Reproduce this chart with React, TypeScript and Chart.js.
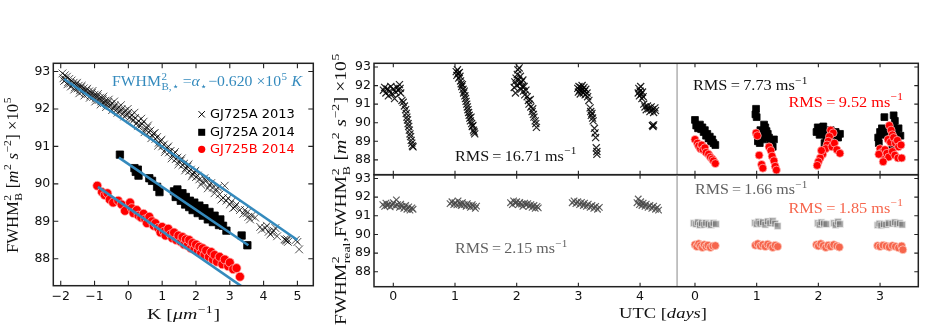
import React, { useEffect, useRef } from 'react';
import { Chart, registerables } from 'chart.js';

Chart.register(...registerables);

type P = [number, number];

// ---------------- Left panel: FWHM vs K ----------------
const kTicks = [-2, -1, 0, 1, 2, 3, 4, 5];
const fwhmTicks = [88, 89, 90, 91, 92, 93];

const gj725a2013: P[] = [
  [-1.95, 92.95], [-1.92, 92.82], [-1.88, 92.9], [-1.85, 92.78], [-1.82, 92.86], [-1.78, 92.72], [-1.75, 92.8],
  [-1.72, 92.68], [-1.68, 92.76], [-1.65, 92.64], [-1.62, 92.7], [-1.58, 92.58], [-1.55, 92.66], [-1.5, 92.55],
  [-1.47, 92.62], [-1.43, 92.5], [-1.4, 92.58], [-1.36, 92.47], [-1.32, 92.55], [-1.28, 92.44], [-1.25, 92.5],
  [-1.2, 92.4], [-1.16, 92.47], [-1.12, 92.36], [-1.08, 92.43], [-1.04, 92.32], [-1.0, 92.38], [-0.96, 92.28],
  [-0.92, 92.34], [-0.88, 92.24], [-0.84, 92.3], [-0.8, 92.2], [-0.76, 92.27], [-0.72, 92.16], [-0.68, 92.22],
  [-0.64, 92.12], [-0.6, 92.18], [-0.55, 92.08], [-0.5, 92.14], [-0.45, 92.03], [-0.4, 92.09], [-0.35, 91.98],
  [-0.3, 92.04], [-0.25, 91.93], [-0.2, 91.99], [-0.15, 91.88], [-0.1, 91.95], [-0.05, 91.84], [0.0, 91.9],
  [0.05, 91.78], [0.1, 91.84], [0.15, 91.7], [0.2, 91.76], [0.25, 91.62], [0.3, 91.68], [0.35, 91.55],
  [0.4, 91.6], [0.45, 91.66], [0.5, 91.45], [0.55, 91.5], [0.6, 91.38], [0.65, 91.42], [0.7, 91.3],
  [0.75, 91.34], [0.8, 91.2], [0.85, 91.25], [0.9, 91.1], [0.95, 91.14], [1.0, 91.0], [1.05, 91.05],
  [1.1, 90.92], [1.15, 90.96], [1.2, 90.84], [1.25, 90.88], [1.3, 90.76], [1.35, 90.8], [1.4, 90.66],
  [1.45, 90.7], [1.5, 90.6], [1.55, 90.62], [1.6, 90.5], [1.65, 90.54], [1.7, 90.42], [1.75, 90.46],
  [1.8, 90.34], [1.85, 90.38], [1.9, 90.26], [1.95, 90.3], [2.0, 90.18], [2.05, 90.22], [2.1, 90.12],
  [2.2, 90.05], [2.3, 90.08], [2.4, 89.96], [2.5, 89.9], [2.6, 89.85], [2.7, 89.72], [2.85, 89.95],
  [2.8, 89.62], [2.9, 89.55], [3.0, 89.45], [3.05, 89.52], [3.15, 89.38], [3.3, 89.3], [3.4, 89.2],
  [3.5, 89.22], [3.55, 89.12], [3.65, 89.15], [3.9, 88.85], [3.95, 88.78], [4.05, 88.82], [4.15, 88.72],
  [4.2, 88.65], [4.3, 88.75], [4.4, 88.6], [4.65, 88.5], [4.68, 88.48], [4.7, 88.52], [5.0, 88.45], [5.05, 88.25],
  [-1.9, 92.75], [-1.8, 92.66], [-1.7, 92.6], [-1.6, 92.52], [-1.52, 92.7], [-1.45, 92.42], [-1.38, 92.62],
  [-1.3, 92.36], [-1.22, 92.54], [-1.14, 92.3], [-1.06, 92.48], [-0.98, 92.2], [-0.9, 92.4], [-0.82, 92.12],
  [-0.74, 92.33], [-0.66, 92.05], [-0.58, 92.25], [-0.48, 91.97], [-0.42, 92.2], [-0.32, 91.9], [-0.22, 92.1],
  [-0.12, 91.8], [-0.02, 92.0], [0.08, 91.72], [0.18, 91.9], [0.28, 91.55], [0.38, 91.74], [0.48, 91.38],
  [0.58, 91.56], [0.68, 91.22], [0.78, 91.36], [0.88, 91.02], [0.98, 91.18], [1.08, 90.85], [1.18, 91.0],
  [1.28, 90.68], [1.38, 90.85], [1.48, 90.52], [1.58, 90.68], [1.68, 90.36], [1.78, 90.52], [1.88, 90.2],
  [1.98, 90.35], [2.15, 89.98], [2.25, 90.15], [2.35, 89.88], [2.45, 90.02], [2.55, 89.75], [2.65, 89.9],
  [2.75, 89.58], [2.95, 89.62], [3.1, 89.35], [3.2, 89.45], [3.45, 89.3], [3.6, 89.05], [3.75, 89.1],
  [4.1, 88.88], [4.25, 88.7], [4.35, 88.82], [4.62, 88.52], [4.72, 88.45], [4.95, 88.5],
];

const gj725a2014: P[] = [
  [-0.25, 90.78], [0.18, 90.42], [0.22, 90.32], [0.28, 90.38], [0.3, 90.22], [0.62, 90.15], [0.7, 90.08],
  [0.85, 89.92], [0.92, 89.78], [1.35, 89.8], [1.4, 89.65], [1.45, 89.85], [1.5, 89.7], [1.55, 89.55],
  [1.6, 89.75], [1.62, 89.6], [1.68, 89.45], [1.7, 89.65], [1.75, 89.5], [1.8, 89.38], [1.82, 89.55],
  [1.88, 89.42], [1.9, 89.3], [1.95, 89.5], [2.0, 89.35], [2.05, 89.22], [2.1, 89.42], [2.15, 89.28],
  [2.2, 89.15], [2.25, 89.35], [2.3, 89.2], [2.35, 89.05], [2.4, 89.25], [2.45, 89.1], [2.5, 88.98],
  [2.55, 89.15], [2.6, 89.0], [2.68, 88.9], [2.72, 89.05], [2.8, 88.88], [2.9, 88.75], [3.35, 88.62], [3.52, 88.36],
];

const gj725b2014: P[] = [
  [-0.92, 89.95], [-0.78, 89.78], [-0.7, 89.7], [-0.62, 89.75], [-0.55, 89.58], [-0.45, 89.5], [-0.3, 89.55],
  [-0.2, 89.45], [-0.1, 89.28], [0.05, 89.5], [0.1, 89.35], [0.15, 89.22], [0.25, 89.3], [0.3, 89.15],
  [0.38, 89.1], [0.45, 89.2], [0.5, 89.05], [0.55, 88.95], [0.62, 89.12], [0.7, 89.0], [0.75, 88.88],
  [0.8, 88.95], [0.88, 88.82], [0.95, 88.7], [1.0, 88.85], [1.05, 88.72], [1.1, 88.62], [1.18, 88.8],
  [1.25, 88.65], [1.3, 88.55], [1.35, 88.7], [1.42, 88.5], [1.48, 88.62], [1.55, 88.45], [1.6, 88.58],
  [1.65, 88.38], [1.7, 88.52], [1.75, 88.35], [1.8, 88.5], [1.85, 88.28], [1.9, 88.42], [1.95, 88.25],
  [2.0, 88.38], [2.05, 88.2], [2.1, 88.32], [2.15, 88.15], [2.2, 88.28], [2.25, 88.1], [2.3, 88.22],
  [2.38, 88.05], [2.45, 88.18], [2.5, 87.98], [2.55, 88.1], [2.62, 87.92], [2.7, 88.05], [2.78, 87.85],
  [2.85, 87.98], [2.95, 87.8], [3.0, 87.9], [3.1, 87.72], [3.2, 87.75], [3.3, 87.52],
];

const fitA2013: P[] = [[-1.9, 92.8], [5.0, 88.5]];
const fitA2014: P[] = [[-0.28, 90.7], [3.55, 88.36]];
const fitB2014: P[] = [[-0.9, 89.92], [3.45, 87.2]];

const legendLabels = ['GJ725A 2013', 'GJ725A 2014', 'GJ725B 2014'];

// ---------------- Middle panels: FWHM vs UTC ----------------
const utcTicks2013 = [0, 1, 2, 3, 4];
const utcTicks2014 = [0, 1, 2, 3];
const SEASON_SPLIT = 4.6; // gray divider (in 2013 day units)
const SHIFT_2014 = 4.89; // where day 0 of 2014 sits on the shared axis

const raw2013: P[] = [
  [-0.16, 91.75], [-0.14, 91.9], [-0.12, 91.6], [-0.1, 91.82], [-0.08, 91.45], [-0.06, 91.7], [-0.04, 91.95],
  [-0.02, 91.55], [0.0, 91.8], [0.02, 91.3], [0.04, 91.65], [0.06, 91.9], [0.08, 91.75], [0.1, 92.05],
  [0.11, 91.85], [0.12, 91.6], [0.14, 91.2], [0.16, 91.1], [0.18, 90.9], [0.2, 90.7], [0.21, 90.5],
  [0.22, 90.3], [0.23, 90.15], [0.24, 89.95], [0.25, 89.8], [0.26, 89.6], [0.27, 89.4], [0.28, 89.25],
  [0.29, 89.05], [0.3, 88.9], [0.31, 88.75], [0.32, 88.7],
  [1.02, 92.75], [1.03, 92.55], [1.04, 92.85], [1.05, 92.65], [1.06, 92.4], [1.07, 92.7], [1.08, 92.5],
  [1.09, 92.25], [1.1, 92.1], [1.11, 91.95], [1.12, 92.05], [1.13, 91.8], [1.14, 91.6], [1.15, 91.7],
  [1.16, 91.45], [1.17, 91.3], [1.18, 91.15], [1.19, 91.0], [1.2, 90.85], [1.21, 90.7], [1.22, 90.55],
  [1.23, 90.4], [1.24, 90.25], [1.25, 90.1], [1.26, 90.3], [1.27, 89.95], [1.28, 89.8], [1.29, 89.85],
  [1.3, 89.6], [1.31, 89.5], [1.32, 89.4],
  [1.96, 91.9], [1.97, 92.2], [1.98, 91.6], [1.99, 92.4], [2.0, 92.0], [2.01, 92.6], [2.02, 92.85],
  [2.03, 92.3], [2.04, 92.95], [2.05, 92.1], [2.06, 92.5], [2.07, 91.8], [2.08, 92.2], [2.09, 91.95],
  [2.1, 92.3], [2.11, 91.7], [2.12, 91.95], [2.13, 91.5], [2.15, 91.75], [2.17, 91.4], [2.19, 91.2],
  [2.2, 91.0], [2.22, 91.25], [2.23, 90.85], [2.25, 90.6], [2.26, 90.75], [2.27, 90.45], [2.28, 90.3],
  [2.3, 90.1], [2.31, 89.95], [2.32, 89.75],
  [2.99, 91.85], [3.0, 91.65], [3.01, 91.95], [3.02, 91.75], [3.03, 91.55], [3.04, 91.9], [3.05, 91.7],
  [3.06, 92.0], [3.07, 91.8], [3.08, 91.6], [3.09, 91.9], [3.1, 91.7], [3.11, 91.5], [3.12, 91.8],
  [3.14, 91.6], [3.15, 91.4], [3.17, 91.2], [3.19, 90.8], [3.2, 90.6], [3.21, 90.4], [3.22, 90.5],
  [3.23, 90.25], [3.24, 90.1], [3.26, 89.7], [3.27, 89.45], [3.28, 89.2], [3.29, 88.65], [3.3, 88.45], [3.3, 88.3],
  [3.97, 91.6], [3.98, 91.85], [3.99, 91.45], [4.0, 91.7], [4.01, 91.95], [4.02, 91.55], [4.03, 91.3],
  [4.04, 91.65], [4.05, 91.4], [4.06, 91.0], [4.08, 90.85], [4.1, 90.7], [4.12, 90.9], [4.14, 90.75],
  [4.16, 90.6], [4.18, 90.85], [4.2, 90.7], [4.22, 90.55], [4.24, 90.8], [4.25, 90.65], [4.2, 89.85],
  [4.21, 89.8], [4.22, 89.88],
];

const raw2014A: P[] = [
  [0.0, 90.15], [0.02, 89.85], [0.05, 89.7], [0.08, 89.9], [0.1, 89.65], [0.12, 89.75], [0.14, 89.5],
  [0.16, 89.6], [0.18, 89.3], [0.2, 89.4], [0.22, 89.15], [0.24, 89.25], [0.26, 89.0], [0.28, 89.1],
  [0.3, 88.9], [0.33, 88.8],
  [0.99, 90.75], [0.98, 90.45], [1.0, 90.3], [1.06, 89.6], [1.08, 89.35], [1.1, 89.1], [1.12, 89.9],
  [1.14, 89.75], [1.16, 89.55], [1.18, 89.4], [1.2, 89.2], [1.22, 89.0], [1.24, 88.85], [1.26, 88.7],
  [1.28, 89.1], [1.05, 88.9], [1.02, 89.0],
  [1.97, 89.5], [1.99, 89.75], [2.02, 89.35], [2.05, 89.65], [2.08, 89.8], [2.1, 89.5], [2.13, 89.2],
  [2.16, 89.4], [2.2, 89.6], [2.24, 89.3], [2.28, 89.5], [2.32, 89.2], [2.35, 89.4], [2.1, 88.9], [2.18, 89.0],
  [3.07, 90.3], [3.22, 90.4], [3.24, 90.1], [3.0, 89.5], [2.97, 89.2], [2.98, 88.9], [3.03, 89.7],
  [3.06, 89.35], [3.1, 89.6], [3.14, 89.2], [3.18, 89.5], [3.22, 89.8], [3.26, 89.55], [3.3, 89.7],
  [3.33, 89.3], [3.28, 89.0], [3.2, 88.8],
];

const raw2014B: P[] = [
  [0.0, 89.1], [0.04, 88.9], [0.06, 88.75], [0.09, 88.6], [0.11, 88.8], [0.13, 88.55], [0.16, 88.65],
  [0.18, 88.4], [0.22, 88.3], [0.25, 88.15], [0.28, 88.05], [0.3, 87.95], [0.33, 87.8],
  [0.99, 89.45], [1.01, 89.3], [1.04, 88.25], [1.08, 87.75], [1.1, 87.55], [1.2, 88.7], [1.23, 88.5],
  [1.25, 88.2], [1.28, 87.95], [1.3, 87.65], [1.32, 87.45],
  [2.2, 89.6], [2.24, 89.45], [2.18, 89.25], [2.16, 89.0], [2.14, 88.8], [2.12, 88.6], [2.22, 88.7],
  [2.26, 88.9], [2.3, 88.55], [2.35, 88.35], [2.07, 88.3], [2.03, 88.1], [2.0, 87.9], [1.98, 87.7], [2.05, 88.5],
  [3.15, 89.85], [3.18, 89.6], [3.2, 89.35], [3.13, 89.1], [3.17, 88.95], [3.22, 89.2], [3.25, 88.9],
  [3.28, 89.05], [3.3, 88.7], [3.34, 88.8], [3.0, 88.6], [3.03, 88.4], [3.06, 88.2], [3.08, 88.55],
  [3.11, 88.35], [3.14, 88.15], [3.2, 88.45], [3.24, 88.25], [3.29, 88.1], [3.35, 88.1], [3.05, 87.9], [2.98, 88.3],
];

const corr2013: P[] = [
  [-0.17, 91.6], [-0.14, 91.5], [-0.12, 91.68], [-0.1, 91.55], [-0.07, 91.62], [-0.05, 91.48], [-0.02, 91.58],
  [0.0, 91.7], [0.03, 91.52], [0.05, 91.85], [0.07, 91.6], [0.1, 91.45], [0.12, 91.62], [0.14, 91.5],
  [0.17, 91.4], [0.2, 91.55], [0.22, 91.35], [0.25, 91.48], [0.27, 91.3], [0.3, 91.42], [0.32, 91.35],
  [0.92, 91.65], [0.95, 91.75], [0.98, 91.6], [1.0, 91.7], [1.03, 91.58], [1.05, 91.8], [1.08, 91.65],
  [1.1, 91.55], [1.12, 91.7], [1.15, 91.6], [1.18, 91.5], [1.2, 91.65], [1.23, 91.55], [1.25, 91.45],
  [1.28, 91.6], [1.3, 91.5], [1.33, 91.4], [1.35, 91.52],
  [1.9, 91.7], [1.93, 91.6], [1.95, 91.8], [1.98, 91.68], [2.0, 91.75], [2.03, 91.6], [2.05, 91.72],
  [2.08, 91.62], [2.1, 91.5], [2.13, 91.68], [2.15, 91.58], [2.18, 91.65], [2.2, 91.5], [2.23, 91.6],
  [2.25, 91.45], [2.28, 91.55], [2.3, 91.4], [2.33, 91.5], [2.35, 91.42],
  [2.9, 91.7], [2.93, 91.8], [2.96, 91.65], [2.99, 91.75], [3.02, 91.6], [3.05, 91.72], [3.08, 91.55],
  [3.1, 91.68], [3.13, 91.5], [3.16, 91.62], [3.19, 91.45], [3.22, 91.55], [3.25, 91.4], [3.28, 91.5],
  [3.31, 91.35], [3.34, 91.45],
  [3.95, 91.7], [3.97, 91.9], [3.99, 91.6], [4.01, 91.75], [4.03, 91.55], [4.05, 91.68], [4.08, 91.5],
  [4.1, 91.62], [4.13, 91.45], [4.16, 91.55], [4.19, 91.4], [4.22, 91.52], [4.25, 91.35], [4.28, 91.45], [4.3, 91.3],
];

const corr2014A: P[] = [
  [-0.02, 90.6], [0.02, 90.55], [0.05, 90.65], [0.08, 90.5], [0.11, 90.6], [0.15, 90.52], [0.18, 90.62],
  [0.22, 90.55], [0.26, 90.5], [0.3, 90.62], [0.34, 90.55],
  [0.97, 90.62], [1.0, 90.55], [1.03, 90.68], [1.06, 90.58], [1.1, 90.65], [1.14, 90.52], [1.18, 90.7],
  [1.22, 90.6], [1.26, 90.72], [1.3, 90.58], [1.34, 90.45],
  [1.99, 90.6], [2.02, 90.52], [2.05, 90.65], [2.09, 90.58], [2.13, 90.55], [2.25, 90.6], [2.28, 90.5],
  [2.32, 90.68], [2.35, 90.55],
  [2.96, 90.5], [2.99, 90.58], [3.02, 90.48], [3.06, 90.55], [3.1, 90.52], [3.14, 90.6], [3.2, 90.58],
  [3.24, 90.65], [3.28, 90.55], [3.32, 90.6], [3.36, 90.52],
];

const corr2014B: P[] = [
  [0.0, 89.45], [0.03, 89.35], [0.06, 89.5], [0.09, 89.4], [0.12, 89.3], [0.15, 89.45], [0.18, 89.35],
  [0.21, 89.42], [0.25, 89.3], [0.29, 89.38], [0.33, 89.4],
  [0.98, 89.42], [1.02, 89.5], [1.06, 89.38], [1.1, 89.45], [1.14, 89.35], [1.18, 89.48], [1.22, 89.4],
  [1.26, 89.3], [1.3, 89.42], [1.34, 89.35],
  [1.97, 89.45], [2.0, 89.38], [2.04, 89.5], [2.08, 89.4], [2.12, 89.3], [2.16, 89.42], [2.2, 89.35],
  [2.25, 89.45], [2.3, 89.38], [2.34, 89.32],
  [2.96, 89.4], [3.0, 89.35], [3.05, 89.42], [3.1, 89.38], [3.15, 89.32], [3.2, 89.4], [3.25, 89.35],
  [3.3, 89.28], [3.35, 89.38], [3.37, 89.18],
];

const rmsRaw2013 = '16.71';
const rmsRaw2014A = '7.73';
const rmsRaw2014B = '9.52';
const rmsCorr2013 = '2.15';
const rmsCorr2014A = '1.66';
const rmsCorr2014B = '1.85';

// ---------------- styling / layout ----------------
const W = 927;
const H = 333;
const Y_W = 40;
const X_H = 30;
const SERIF = "'Liberation Serif', 'DejaVu Serif', serif";
const SANS = "'DejaVu Sans', sans-serif";
const BLUE = '#348ABD';
const RED = '#ff0000';
const SALMON = '#f6654c';
const GRAY_TXT = '#606060';

const leftArea = { l: 53.3, r: 313.3, t: 63.3, b: 285.7 };
const midTop = { l: 374, r: 918.3, t: 63.3, b: 174.7 };
const midBot = { l: 374, r: 918.3, t: 174.7, b: 286.7 };

type Seg = { t?: string; it?: boolean; sup?: string; sub?: string };
type RichOpts = { x: number; y: number; size: number; color: string; align?: 'left' | 'center'; rotate?: boolean; width?: number };

function fontStr(size: number, it?: boolean) {
  return `${it ? 'italic ' : ''}${size}px ${SERIF}`;
}

function drawRich(ctx: CanvasRenderingContext2D, segs: Seg[], o: RichOpts) {
  const small = o.size * 0.7;
  let w = 0;
  const items = segs.map((s) => {
    ctx.font = fontStr(o.size, s.it);
    const mw = s.t ? ctx.measureText(s.t).width : 0;
    ctx.font = fontStr(small);
    const sw = Math.max(s.sup ? ctx.measureText(s.sup).width : 0, s.sub ? ctx.measureText(s.sub).width : 0);
    const item = { s, mw, x: w };
    w += mw + (sw ? sw + 1 : 0);
    return item;
  });
  const sx = o.width ? o.width / w : 1;
  ctx.save();
  ctx.translate(o.x, o.y);
  if (o.rotate) ctx.rotate(-Math.PI / 2);
  ctx.scale(sx, 1);
  const x0 = o.align === 'center' ? -w / 2 : 0;
  ctx.fillStyle = o.color;
  ctx.textBaseline = 'alphabetic';
  ctx.textAlign = 'left';
  for (const it of items) {
    ctx.font = fontStr(o.size, it.s.it);
    if (it.s.t) ctx.fillText(it.s.t, x0 + it.x, 0);
    ctx.font = fontStr(small);
    if (it.s.sup) ctx.fillText(it.s.sup, x0 + it.x + it.mw + 0.5, -o.size * 0.42);
    if (it.s.sub) ctx.fillText(it.s.sub, x0 + it.x + it.mw + 0.5, o.size * 0.27);
  }
  ctx.restore();
}

const rmsSegs = (v: string): Seg[] => [{ t: `RMS\u2009=\u2009${v} ms`, sup: '\u22121' }];

const xy = (pts: P[], shift = 0) => pts.map(([x, y]) => ({ x: x + shift, y }));
const minusFmt = (v: number) => (v < 0 ? '\u2212' + Math.abs(v) : String(v));

function padFor(a: { l: number; r: number; t: number; b: number }, xAxis: boolean) {
  return { left: a.l - Y_W, right: W - a.r, top: a.t, bottom: H - a.b - (xAxis ? X_H : 0) };
}

function decor(xTicks: number[], yTicks: number[], tick: number, under?: (c: any) => void, over?: (c: any) => void) {
  return {
    id: 'decor',
    beforeDatasetsDraw(chart: any) {
      if (under) under(chart);
    },
    afterDraw(chart: any) {
      const { ctx, chartArea: a, scales } = chart;
      ctx.save();
      ctx.strokeStyle = '#222';
      ctx.lineWidth = 1.1;
      ctx.beginPath();
      for (const v of xTicks) {
        const px = scales.x.getPixelForValue(v);
        ctx.moveTo(px, a.bottom);
        ctx.lineTo(px, a.bottom - tick);
        ctx.moveTo(px, a.top);
        ctx.lineTo(px, a.top + tick);
      }
      for (const v of yTicks) {
        const py = scales.y.getPixelForValue(v);
        ctx.moveTo(a.left, py);
        ctx.lineTo(a.left + tick, py);
        ctx.moveTo(a.right, py);
        ctx.lineTo(a.right - tick, py);
      }
      ctx.stroke();
      ctx.lineWidth = 1.5;
      ctx.strokeRect(a.left, a.top, a.right - a.left, a.bottom - a.top);
      ctx.restore();
      if (over) over(chart);
    },
  };
}

function yScale(min: number, max: number, ticks: number[]) {
  return {
    type: 'linear',
    min,
    max,
    afterBuildTicks: (s: any) => {
      s.ticks = ticks.map((value) => ({ value }));
    },
    afterFit: (s: any) => {
      s.width = Y_W;
    },
    ticks: { font: { family: SANS, size: 12.5 }, color: '#111', padding: 3, autoSkip: false },
    grid: { display: false, drawTicks: false },
    border: { display: false },
  };
}

function xScale(min: number, max: number, ticks: number[], fmt: (v: number) => string, display = true, pad = 4) {
  return {
    type: 'linear',
    min,
    max,
    display,
    afterBuildTicks: (s: any) => {
      s.ticks = ticks.map((value) => ({ value }));
    },
    afterFit: (s: any) => {
      if (display) s.height = X_H;
    },
    ticks: {
      font: { family: SANS, size: 12.5 },
      color: '#111',
      padding: pad,
      autoSkip: false,
      maxRotation: 0,
      callback: (v: any) => fmt(Number(v)),
    },
    grid: { display: false, drawTicks: false },
    border: { display: false },
  };
}

const baseOpts = {
  responsive: false,
  animation: false as const,
  events: [] as any[],
  plugins: { legend: { display: false }, tooltip: { enabled: false } },
};

function crossDs(pts: P[], color: string, r: number, order: number, shift = 0, bw = 1) {
  return { data: xy(pts, shift), pointStyle: 'crossRot', pointRadius: r, borderColor: color, borderWidth: bw, backgroundColor: color, order, clip: 0 };
}
function squareDs(pts: P[], fill: string, edge: string, r: number, order: number, shift = 0) {
  return { data: xy(pts, shift), pointStyle: 'rect', pointRadius: r, backgroundColor: fill, borderColor: edge, borderWidth: 0.8, order, clip: 0 };
}
function circleDs(pts: P[], fill: string, edge: string, r: number, order: number, shift = 0) {
  return { data: xy(pts, shift), pointStyle: 'circle', pointRadius: r, backgroundColor: fill, borderColor: edge, borderWidth: 0.8, order, clip: 0 };
}
function lineDs(pts: P[]) {
  return { data: xy(pts), showLine: true, pointRadius: 0, borderColor: BLUE, borderWidth: 2.6, order: 0, clip: 0 };
}

// shared UTC axis of the middle panels
const utcAxisTicks = [...utcTicks2013, ...utcTicks2014.map((d) => d + SHIFT_2014)];
const utcFmt = (v: number) => String(Math.round(v > SEASON_SPLIT ? v - SHIFT_2014 : v));
const UTC_MIN = -0.313;
const UTC_MAX = 8.51;
const F_MIN = 87.2;
const F_MAX = 93.2;

function divider(c: any) {
  const { ctx, chartArea: a, scales } = c;
  const px = scales.x.getPixelForValue(SEASON_SPLIT);
  ctx.save();
  ctx.strokeStyle = '#b5b5b5';
  ctx.lineWidth = 1.6;
  ctx.beginPath();
  ctx.moveTo(px, a.top);
  ctx.lineTo(px, a.bottom);
  ctx.stroke();
  ctx.restore();
}

function makeLeft(canvas: HTMLCanvasElement) {
  const over = (c: any) => {
    const ctx: CanvasRenderingContext2D = c.ctx;
    drawRich(ctx, [{ t: 'FWHM', sup: '2', sub: 'B,\u22c6' }, { t: '\u2009=' }, { t: '\u03b1', it: true, sub: '\u22c6' }, { t: '\u2212' + '0.620 \u00d710', sup: '5' }, { t: ' ' }, { t: 'K', it: true }], { x: 112, y: 86, size: 15, color: BLUE, width: 190 });
    // legend
    const mx = 201.7;
    const rows = [114.3, 132.3, 149.3];
    ctx.save();
    ctx.strokeStyle = '#000';
    ctx.lineWidth = 1;
    ctx.beginPath();
    ctx.moveTo(mx - 3.2, rows[0] - 3.2);
    ctx.lineTo(mx + 3.2, rows[0] + 3.2);
    ctx.moveTo(mx + 3.2, rows[0] - 3.2);
    ctx.lineTo(mx - 3.2, rows[0] + 3.2);
    ctx.stroke();
    ctx.fillStyle = '#000';
    ctx.fillRect(mx - 3.5, rows[1] - 3.5, 7, 7);
    ctx.fillStyle = RED;
    ctx.beginPath();
    ctx.arc(mx, rows[2], 3.6, 0, Math.PI * 2);
    ctx.fill();
    ctx.font = `13px ${SANS}`;
    ctx.textBaseline = 'middle';
    ctx.textAlign = 'left';
    const cols = ['#000', '#000', RED];
    legendLabels.forEach((l, i) => {
      ctx.fillStyle = cols[i];
      ctx.fillText(l, 210, rows[i] + 0.5);
    });
    ctx.restore();
    // axis titles
    drawRich(ctx, [{ t: 'FWHM', sup: '2', sub: 'B' }, { t: ' [' }, { t: 'm', it: true, sup: '2' }, { t: ' ' }, { t: 's', it: true, sup: '\u22122' }, { t: '] \u00d710', sup: '5' }], { x: 18, y: 175, size: 16, color: '#111', align: 'center', rotate: true, width: 156 });
    drawRich(ctx, [{ t: 'K [' }, { t: '\u03bcm', it: true, sup: '\u22121' }, { t: ']' }], { x: 183.5, y: 319, size: 15, color: '#111', align: 'center', width: 73 });
  };
  return new Chart(canvas, {
    type: 'scatter',
    data: {
      datasets: [
        lineDs(fitA2013),
        lineDs(fitA2014),
        lineDs(fitB2014),
        crossDs(gj725a2013, 'rgba(0,0,0,0.7)', 5.5, 3),
        squareDs(gj725a2014, '#000', '#000', 5.2, 2),
        circleDs(gj725b2014, RED, 'rgba(255,190,190,0.9)', 4.5, 1),
      ] as any,
    },
    options: {
      ...baseOpts,
      layout: { padding: padFor(leftArea, true) },
      scales: {
        x: xScale(-2.22, 5.47, kTicks, minusFmt, true, 4) as any,
        y: yScale(87.28, 93.22, fwhmTicks) as any,
      },
    } as any,
    plugins: [decor(kTicks, fwhmTicks, 5, undefined, over)],
  });
}

function makeMidTop(canvas: HTMLCanvasElement) {
  const over = (c: any) => {
    const ctx: CanvasRenderingContext2D = c.ctx;
    drawRich(ctx, rmsSegs(rmsRaw2013), { x: 455, y: 160.7, size: 15, color: '#111', width: 122 });
    drawRich(ctx, rmsSegs(rmsRaw2014A), { x: 693, y: 90, size: 15, color: '#111', width: 115 });
    drawRich(ctx, rmsSegs(rmsRaw2014B), { x: 788.5, y: 106.7, size: 15, color: RED, width: 115 });
  };
  return new Chart(canvas, {
    type: 'scatter',
    data: {
      datasets: [
        crossDs(raw2013, 'rgba(0,0,0,0.85)', 5, 3, 0, 1.2),
        squareDs(raw2014A, '#000', '#000', 4.8, 2, SHIFT_2014),
        circleDs(raw2014B, RED, 'rgba(255,190,190,0.9)', 4, 1, SHIFT_2014),
      ] as any,
    },
    options: {
      ...baseOpts,
      layout: { padding: padFor(midTop, false) },
      scales: {
        x: xScale(UTC_MIN, UTC_MAX, utcAxisTicks, utcFmt, false) as any,
        y: yScale(F_MIN, F_MAX, fwhmTicks) as any,
      },
    } as any,
    plugins: [decor(utcAxisTicks, fwhmTicks, 4, divider, over)],
  });
}

function makeMidBot(canvas: HTMLCanvasElement) {
  const over = (c: any) => {
    const ctx: CanvasRenderingContext2D = c.ctx;
    drawRich(ctx, rmsSegs(rmsCorr2013), { x: 455, y: 253.3, size: 15, color: GRAY_TXT, width: 113 });
    drawRich(ctx, rmsSegs(rmsCorr2014A), { x: 695, y: 194.3, size: 15, color: GRAY_TXT, width: 113 });
    drawRich(ctx, rmsSegs(rmsCorr2014B), { x: 788.5, y: 212.7, size: 15, color: SALMON, width: 115 });
    drawRich(ctx, [{ t: 'FWHM', sup: '2', sub: 'real' }, { t: ',FWHM', sup: '2', sub: 'B' }, { t: ' [' }, { t: 'm', it: true, sup: '2' }, { t: ' ' }, { t: 's', it: true, sup: '\u22122' }, { t: '] \u00d710', sup: '5' }], { x: 345.5, y: 189, size: 16, color: '#111', align: 'center', rotate: true, width: 272 });
    drawRich(ctx, [{ t: 'UTC [' }, { t: 'days', it: true }, { t: ']' }], { x: 663, y: 318.3, size: 15, color: '#111', align: 'center', width: 88 });
  };
  return new Chart(canvas, {
    type: 'scatter',
    data: {
      datasets: [
        crossDs(corr2013, 'rgba(70,70,70,0.85)', 4.6, 3, 0, 1.2),
        squareDs(corr2014A, 'rgba(110,110,110,0.6)', 'rgba(240,240,240,0.9)', 4.8, 2, SHIFT_2014),
        circleDs(corr2014B, SALMON, 'rgba(255,215,205,0.9)', 4, 1, SHIFT_2014),
      ] as any,
    },
    options: {
      ...baseOpts,
      layout: { padding: padFor(midBot, true) },
      scales: {
        x: xScale(UTC_MIN, UTC_MAX, utcAxisTicks, utcFmt, true, 2.5) as any,
        y: yScale(F_MIN, F_MAX, fwhmTicks) as any,
      },
    } as any,
    plugins: [decor(utcAxisTicks, fwhmTicks, 4, divider, over)],
  });
}

export default function App() {
  const r1 = useRef<HTMLCanvasElement>(null);
  const r2 = useRef<HTMLCanvasElement>(null);
  const r3 = useRef<HTMLCanvasElement>(null);
  useEffect(() => {
    const charts = [makeLeft(r1.current!), makeMidTop(r2.current!), makeMidBot(r3.current!)];
    return () => charts.forEach((c) => c.destroy());
  }, []);
  const cs: React.CSSProperties = { position: 'absolute', left: 0, top: 0, width: W, height: H };
  return (
    <div style={{ position: 'absolute', left: 0, top: 0, width: W, height: H, background: '#fff', overflow: 'hidden' }}>
      <canvas ref={r1} width={W} height={H} style={cs} />
      <canvas ref={r2} width={W} height={H} style={cs} />
      <canvas ref={r3} width={W} height={H} style={cs} />
    </div>
  );
}
